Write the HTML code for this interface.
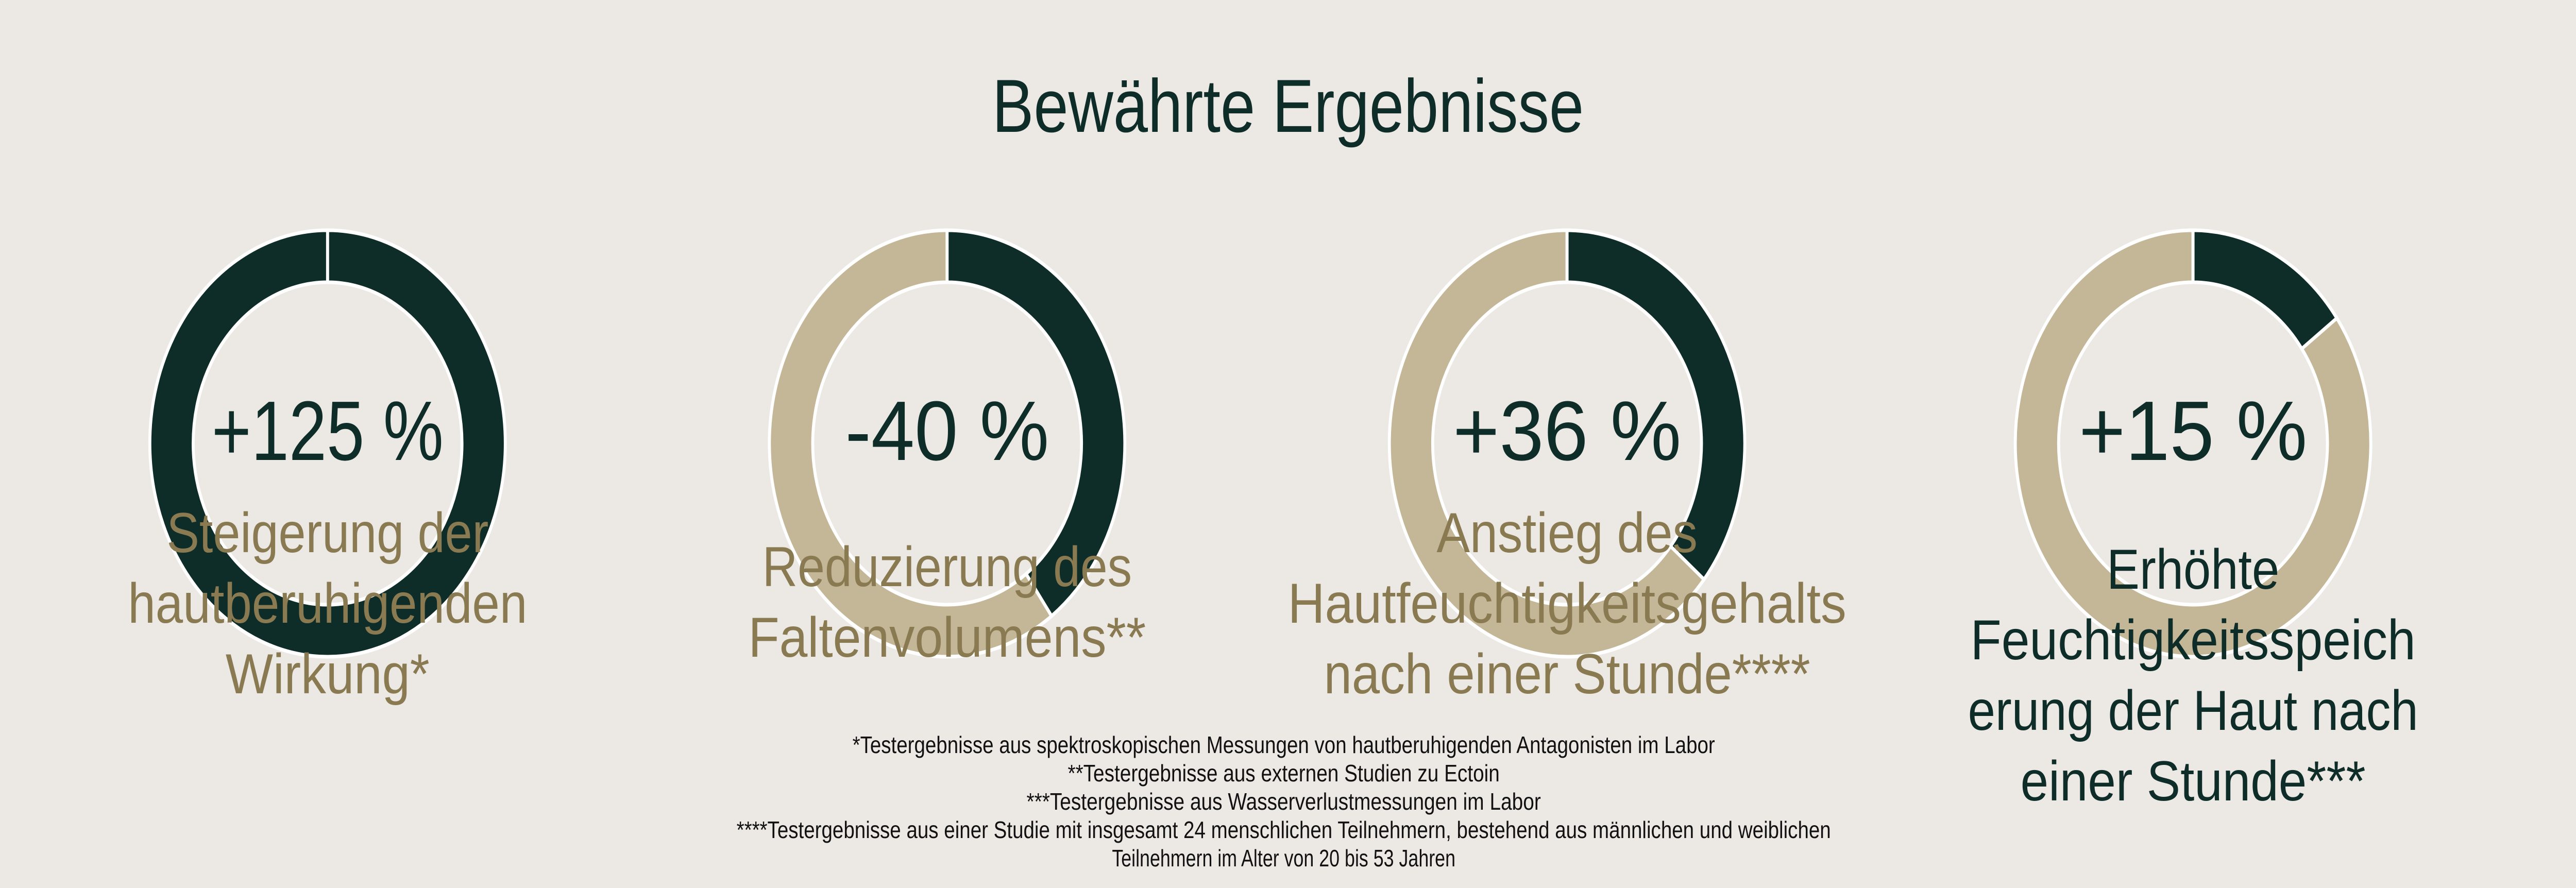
<!DOCTYPE html>
<html><head><meta charset="utf-8"><style>
html,body{margin:0;padding:0;background:#ece9e4;overflow:hidden;width:100%;height:100%;}
svg{display:block;width:100vw;height:100vh;}
text{font-family:"Liberation Sans",sans-serif;}
</style></head><body>
<svg id="chart" viewBox="0 0 6000 1724" preserveAspectRatio="none" xmlns="http://www.w3.org/2000/svg">
<rect width="6000" height="1724" fill="#ece9e4"/>
<text x="3000" y="256" text-anchor="middle" font-size="146" fill="#0f2d28" textLength="1378" lengthAdjust="spacingAndGlyphs">Bewährte Ergebnisse</text>
<g id="donuts"></g>
<g id="labels"></g>
<g font-size="46" fill="#111" text-anchor="middle">
<text x="2990" y="1462" textLength="2009" lengthAdjust="spacingAndGlyphs">*Testergebnisse aus spektroskopischen Messungen von hautberuhigenden Antagonisten im Labor</text>
<text x="2990" y="1517" textLength="1006" lengthAdjust="spacingAndGlyphs">**Testergebnisse aus externen Studien zu Ectoin</text>
<text x="2990" y="1572" textLength="1198" lengthAdjust="spacingAndGlyphs">***Testergebnisse aus Wasserverlustmessungen im Labor</text>
<text x="2990" y="1627" textLength="2549" lengthAdjust="spacingAndGlyphs">****Testergebnisse aus einer Studie mit insgesamt 24 menschlichen Teilnehmern, bestehend aus männlichen und weiblichen</text>
<text x="2990" y="1682" textLength="800" lengthAdjust="spacingAndGlyphs">Teilnehmern im Alter von 20 bis 53 Jahren</text>
</g>
</svg>
<script>
var categories = ["hautberuhigende Wirkung", "Faltenvolumen", "Hautfeuchtigkeitsgehalt", "Feuchtigkeitsspeicherung"];
var percentValues = [125, 40, 36, 15];
var valueLabels = ["+125 %", "-40 %", "+36 %", "+15 %"];
var labelLines = [
  ["Steigerung der", "hautberuhigenden", "Wirkung*"],
  ["Reduzierung des", "Faltenvolumens**"],
  ["Anstieg des", "Hautfeuchtigkeitsgehalts", "nach einer Stunde****"],
  ["Erhöhte", "Feuchtigkeitsspeich", "erung der Haut nach", "einer Stunde***"]
];

var NS = "http://www.w3.org/2000/svg";
var centersX = [763, 2206, 3650, 5108];
var CY = 861, RO = 414, RI = 313;
var valueWidths = [540, 475, 532, 532];
var lineWidths = [[750, 930, 475], [861, 926], [608, 1301, 1133], [402, 1037, 1049, 804]];
var labelStartY = [1072, 1138, 1072, 1143];
var labelColors = ["#8a7a52", "#8a7a52", "#8a7a52", "#0f2d28"];

function pt(cx, r, deg) {
  var a = (deg - 90) * Math.PI / 180;
  return [cx + r * Math.cos(a), CY + r * Math.sin(a)];
}
function arcPath(cx, a0, a1) {
  if (a1 - a0 >= 359.99) a1 = a0 + 359.99;
  var large = (a1 - a0) > 180 ? 1 : 0;
  var p0 = pt(cx, RO, a0), p1 = pt(cx, RO, a1), q1 = pt(cx, RI, a1), q0 = pt(cx, RI, a0);
  return "M" + p0 + " A" + RO + "," + RO + " 0 " + large + " 1 " + p1 +
    " L" + q1 + " A" + RI + "," + RI + " 0 " + large + " 0 " + q0 + " Z";
}

var donuts = document.getElementById("donuts");
var labels = document.getElementById("labels");
for (var i = 0; i < percentValues.length; i++) {
  var cx = centersX[i];
  var frac = Math.min(percentValues[i], 100) / 100;
  var ang = frac * 360;
  var g = document.createElementNS(NS, "g");
  
  
  if (ang < 360) {
    var rest = document.createElementNS(NS, "path");
    
    
    rest.setAttribute("d", arcPath(cx, ang, 360));
    rest.setAttribute("fill", "#c4b797");
    rest.setAttribute("stroke", "#ffffff");
    rest.setAttribute("stroke-width", "7");
    g.appendChild(rest);
  }
  var seg = document.createElementNS(NS, "path");
  
  
  seg.setAttribute("d", arcPath(cx, 0, ang));
  seg.setAttribute("fill", "#0f2d28");
  seg.setAttribute("stroke", "#ffffff");
  seg.setAttribute("stroke-width", "7");
  g.appendChild(seg);
  donuts.appendChild(g);

  var vt = document.createElementNS(NS, "text");
  
  
  vt.setAttribute("x", cx);
  vt.setAttribute("y", 893);
  vt.setAttribute("text-anchor", "middle");
  vt.setAttribute("font-size", "164");
  vt.setAttribute("fill", "#0f2d28");
  vt.setAttribute("textLength", valueWidths[i]);
  vt.setAttribute("lengthAdjust", "spacingAndGlyphs");
  vt.textContent = valueLabels[i];
  labels.appendChild(vt);

  for (var j = 0; j < labelLines[i].length; j++) {
    var lt = document.createElementNS(NS, "text");
    
    
    lt.setAttribute("x", cx);
    lt.setAttribute("y", labelStartY[i] + j * 137);
    lt.setAttribute("text-anchor", "middle");
    lt.setAttribute("font-size", "110");
    lt.setAttribute("fill", labelColors[i]);
    lt.setAttribute("textLength", lineWidths[i][j]);
    lt.setAttribute("lengthAdjust", "spacingAndGlyphs");
    lt.textContent = labelLines[i][j];
    labels.appendChild(lt);
  }
}
</script>
</body></html>
